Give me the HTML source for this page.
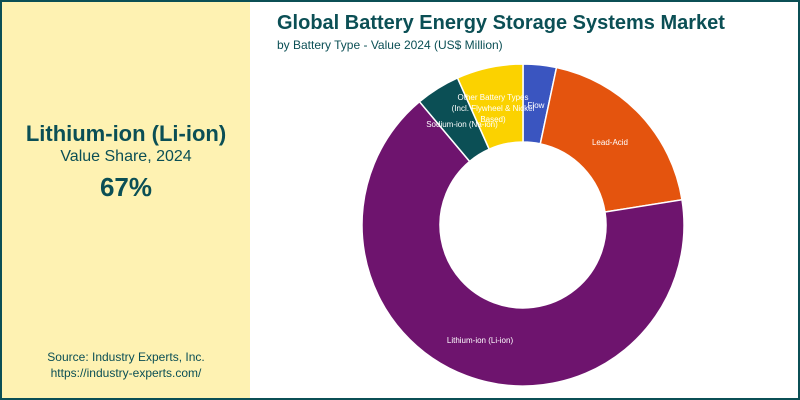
<!DOCTYPE html>
<html><head><meta charset="utf-8"><style>
body{margin:0;width:800px;height:400px;overflow:hidden;font-family:"Liberation Sans",sans-serif;}
.frame{position:absolute;left:0;top:0;width:796px;height:396px;border:2px solid #0b4f55;background:#fff;}
.left{position:absolute;left:2px;top:2px;width:248px;height:396px;background:#fef2b2;}
.t{position:absolute;width:248px;text-align:center;color:#0b4f55;}
</style></head><body>
<div class="frame"></div>
<div class="left">
<div class="t" style="top:119px;font-size:22px;font-weight:bold;">Lithium-ion (Li-ion)</div>
<div class="t" style="top:146px;font-size:16px;">Value Share, 2024</div>
<div class="t" style="top:170px;font-size:26px;font-weight:bold;">67%</div>
<div class="t" style="top:348px;font-size:12px;">Source: Industry Experts, Inc.</div>
<div class="t" style="top:364px;font-size:12px;">https://industry-experts.com/</div>
</div>
<div style="position:absolute;left:277px;top:12px;font-size:20px;font-weight:bold;color:#0b4f55;">Global Battery Energy Storage Systems Market</div>
<div style="position:absolute;left:277px;top:38px;font-size:12px;color:#0b4f55;">by Battery Type - Value 2024 (US$ Million)</div>
<svg width="800" height="400" style="position:absolute;left:0;top:0" font-family="Liberation Sans, sans-serif" font-size="8" fill="#fff">
<g stroke="#fff" stroke-width="1.5">
<path d="M523,64 A161,161 0 0 1 556.5,67.5 L540.3,143.8 A83,83 0 0 0 523,142 Z" fill="#3a55c0"/>
<path d="M556.5,67.5 A161,161 0 0 1 682,199.8 L605,212 A83,83 0 0 0 540.3,143.8 Z" fill="#e4540e"/>
<path d="M682,199.8 A161,161 0 1 1 419.5,101.7 L469.6,161.4 A83,83 0 1 0 605,212 Z" fill="#6e146e"/>
<path d="M419.5,101.7 A161,161 0 0 1 457.5,77.9 L489.2,149.2 A83,83 0 0 0 469.6,161.4 Z" fill="#0b4f55"/>
<path d="M457.5,77.9 A161,161 0 0 1 523,64 L523,142 A83,83 0 0 0 489.2,149.2 Z" fill="#fbd200"/>
</g>
<text x="493" y="100" text-anchor="middle">Other Battery Types</text>
<text x="493" y="111" text-anchor="middle">(Incl. Flywheel &amp; Nickel</text>
<text x="493" y="122" text-anchor="middle">Based)</text>
<text x="536" y="108" text-anchor="middle">Flow</text>
<text x="462" y="127" text-anchor="middle">Sodium-ion (Na-ion)</text>
<text x="610" y="145" text-anchor="middle">Lead-Acid</text>
<text x="480" y="343" text-anchor="middle">Lithium-ion (Li-ion)</text>
</svg>
</body></html>
